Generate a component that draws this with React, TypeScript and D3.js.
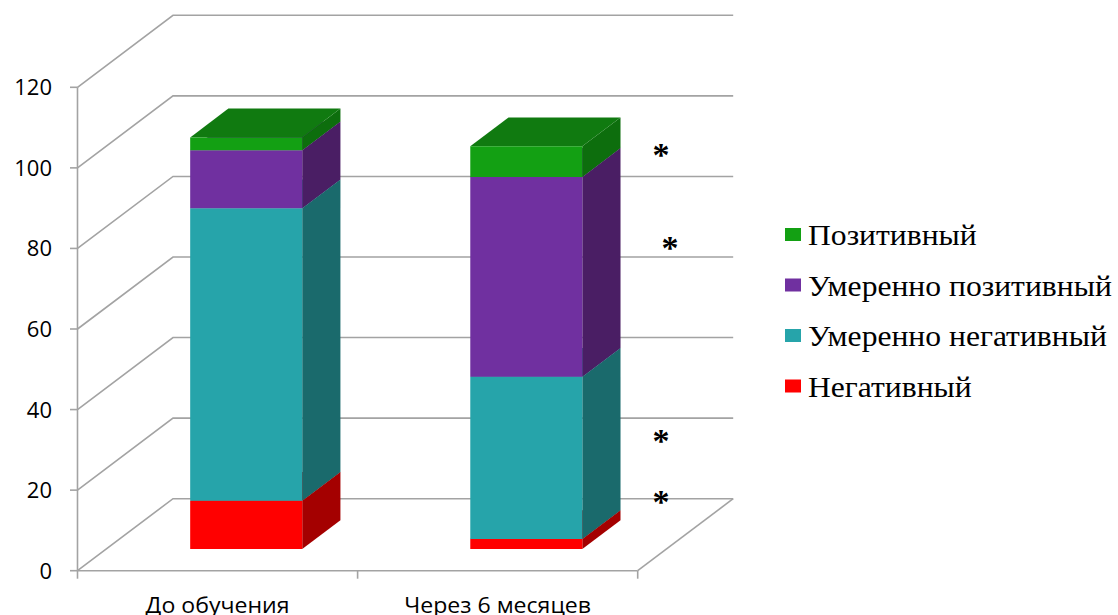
import { useEffect, useRef } from "react";
import * as d3 from "d3";

// categories and stacked values (bottom to top)
const categories = ["До обучения", "Через 6 месяцев"];
const seriesNames = ["Негативный", "Умеренно негативный", "Умеренно позитивный", "Позитивный"];
const negative = [12, 2.5];
const modNegative = [72.6, 40.3];
const modPositive = [14.4, 49.6];
const positive = [3.2, 7.6];
const yTicks = [0, 20, 40, 60, 80, 100, 120];
// significance markers: value position on the y axis
const markerValues = [104.4, 81.4, 33.5, 18.4];

const frontColors = ["#ff0000", "#26a4aa", "#7030a0", "#13a013"];
const sideColors = ["#a40000", "#1a6a6c", "#4a1e64", "#0d6e0d"];
const topColors = ["#c00000", "#1f8a8e", "#5c2786", "#107a10"];

interface Segment {
  cat: string;
  series: number;
  y0: number;
  y1: number;
}

const App: React.FC = () => {
  const svgRef = useRef<SVGSVGElement | null>(null);

  useEffect(() => {
    if (!svgRef.current) return;
    const width = 1118;
    const height = 615;
    const DX = 95.5; // depth offset
    const DY = 72;
    const gridColor = "#a3a3a3";

    const svg = d3.select(svgRef.current).attr("width", width).attr("height", height);
    svg.selectAll("*").remove();

    const x = d3.scaleBand<string>().domain(categories).range([77.5, 637.7]);
    const y = d3.scaleLinear().domain([0, 120]).range([570.7, 87.3]);

    const P = (px: number, v: number, d: number): [number, number] => [px + d * DX, y(v) - d * DY];
    const poly = (pts: [number, number][]) => pts.map((p) => p.join(",")).join(" ");

    const grid = svg.append("g").attr("fill", "none").attr("stroke", gridColor).attr("stroke-width", 1.6);

    // left wall diagonals + back wall lines
    yTicks.forEach((t) => {
      const a = P(x.range()[0], t, 0);
      const b = P(x.range()[0], t, 1);
      const c = P(x.range()[1], t, 1);
      grid.append("polyline").attr("points", poly([a, b, c]));
    });
    // floor right edge
    grid.append("line")
      .attr("x1", P(x.range()[1], 0, 0)[0]).attr("y1", P(x.range()[1], 0, 0)[1])
      .attr("x2", P(x.range()[1], 0, 1)[0]).attr("y2", P(x.range()[1], 0, 1)[1]);

    // front axes
    const axes = svg.append("g").attr("stroke", gridColor).attr("stroke-width", 1.6);
    axes.append("line").attr("x1", 77.5).attr("x2", 77.5).attr("y1", y(120)).attr("y2", y(0));
    axes.append("line").attr("x1", 77.5).attr("x2", x.range()[1]).attr("y1", y(0)).attr("y2", y(0));
    yTicks.forEach((t) => {
      axes.append("line").attr("x1", 70).attr("x2", 77.5).attr("y1", y(t)).attr("y2", y(t));
    });
    [...categories.map((c) => x(c)!), x.range()[1]].forEach((px) => {
      axes.append("line").attr("x1", px).attr("x2", px).attr("y1", y(0)).attr("y2", y(0) + 8);
    });

    // y labels
    svg.append("g")
      .selectAll("text")
      .data(yTicks)
      .join("text")
      .attr("x", 52)
      .attr("y", (d) => y(d) + 8)
      .attr("text-anchor", "end")
      .style("font-family", "'Open Sans', sans-serif")
      .style("font-size", "22px")
      .attr("fill", "#000")
      .text((d) => d);

    // x labels
    svg.append("g")
      .selectAll("text")
      .data(categories)
      .join("text")
      .attr("transform", (d) => `translate(${x(d)! + x.bandwidth() / 2},613) scale(1.05,1)`)
      .attr("text-anchor", "middle")
      .style("font-family", "'Open Sans', sans-serif")
      .style("font-size", "22px")
      .attr("fill", "#000")
      .text((d) => d);

    // stacked segments
    const stacks = [negative, modNegative, modPositive, positive];
    const segments: Segment[] = [];
    categories.forEach((cat, i) => {
      let acc = 0;
      stacks.forEach((vals, s) => {
        segments.push({ cat, series: s, y0: acc, y1: acc + vals[i] });
        acc += vals[i];
      });
    });

    const barW = x.bandwidth() * 0.4;
    const d0 = 0.3;
    const d1 = 0.7;
    const bars = svg.append("g");
    segments.forEach((sg) => {
      const left = x(sg.cat)! + (x.bandwidth() - barW) / 2;
      const right = left + barW;
      const g = bars.append("g");
      // side face
      g.append("polygon")
        .attr("points", poly([P(right, sg.y0, d0), P(right, sg.y0, d1), P(right, sg.y1, d1), P(right, sg.y1, d0)]))
        .attr("fill", sideColors[sg.series]);
      // top face
      g.append("polygon")
        .attr("points", poly([P(left, sg.y1, d0), P(right, sg.y1, d0), P(right, sg.y1, d1), P(left, sg.y1, d1)]))
        .attr("fill", topColors[sg.series]);
      // front face
      g.append("polygon")
        .attr("points", poly([P(left, sg.y0, d0), P(right, sg.y0, d0), P(right, sg.y1, d0), P(left, sg.y1, d0)]))
        .attr("fill", frontColors[sg.series]);
    });

    // significance markers
    svg.append("g")
      .selectAll("text")
      .data(markerValues)
      .join("text")
      .attr("x", (_, i) => (i === 1 ? 670 : 661))
      .attr("y", (d) => y(d) + 16)
      .attr("text-anchor", "middle")
      .style("font-family", "'Liberation Serif', serif")
      .style("font-weight", "bold")
      .style("font-size", "34px")
      .attr("fill", "#000")
      .text("*");

    // legend (top to bottom: reversed series)
    const legendItems = seriesNames.map((n, i) => ({ name: n, color: frontColors[i] })).reverse();
    const legend = svg.append("g").attr("transform", "translate(785,228)");
    legendItems.forEach((it, i) => {
      legend.append("rect").attr("x", 0).attr("y", i * 50.5).attr("width", 16).attr("height", 13).attr("fill", it.color);
      legend.append("text")
        .attr("transform", `translate(23,${i * 50.5 + 17}) scale(1.09,1)`)
        .style("font-family", "'Liberation Serif', 'Times New Roman', serif")
        .style("font-size", "29px")
        .attr("fill", "#000")
        .text(it.name);
    });
  }, []);

  return <svg ref={svgRef} style={{ position: "absolute", left: 0, top: 0 }}></svg>;
};

export default App;
